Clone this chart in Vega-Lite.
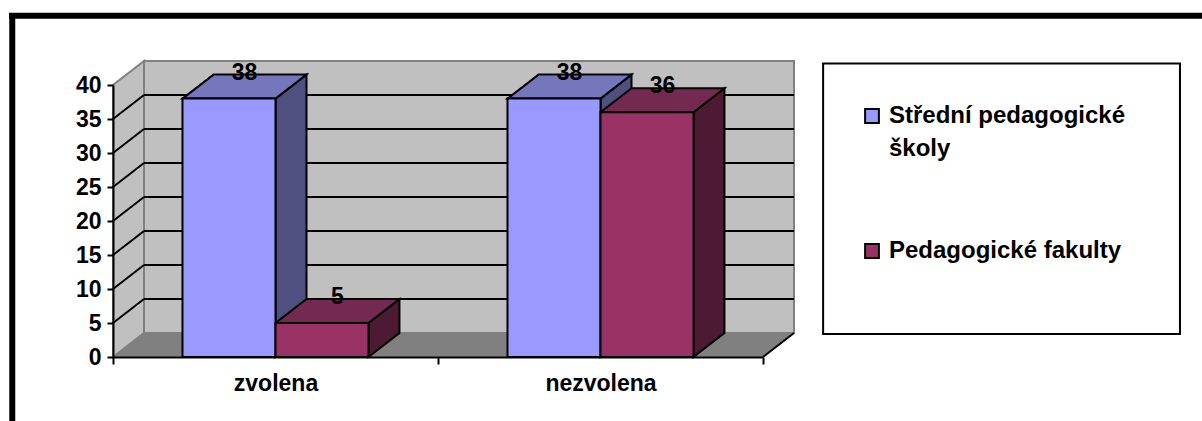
{
  "$schema": "https://vega.github.io/schema/vega-lite/v6.json",
  "width": 650,
  "height": 272,
  "autosize": "none",
  "padding": {"left": 113, "top": 85, "right": 439, "bottom": 64},
  "background": "white",
  "config": {
    "view": {"stroke": null},
    "text": {"font": "Liberation Sans"},
    "axis": {"labelFont": "Liberation Sans", "labelFontWeight": "bold", "labelColor": "black"}
  },
  "datasets": {
    "bars": [
      {"category": "zvolena", "series": "Střední pedagogické školy", "value": 38},
      {"category": "zvolena", "series": "Pedagogické fakulty", "value": 5},
      {"category": "nezvolena", "series": "Střední pedagogické školy", "value": 38},
      {"category": "nezvolena", "series": "Pedagogické fakulty", "value": 36}
    ],
    "ticks": [
      {"tick": 0}, {"tick": 5}, {"tick": 10}, {"tick": 15}, {"tick": 20},
      {"tick": 25}, {"tick": 30}, {"tick": 35}, {"tick": 40}
    ],
    "depths": [{"depth": 0}, {"depth": 1}],
    "single": [{"part": "chrome"}]
  },
  "resolve": {"scale": {"x": "independent", "fill": "independent"}},
  "encoding": {
    "y": {
      "type": "quantitative",
      "title": null,
      "scale": {"domain": [0, 40], "nice": false},
      "axis": {
        "values": [0, 5, 10, 15, 20, 25, 30, 35, 40],
        "title": null,
        "grid": false,
        "labelFontSize": 23,
        "labelPadding": 6,
        "labelOverlap": false,
        "labelFlush": false,
        "labelBound": false,
        "tickSize": 6,
        "tickWidth": 2,
        "tickColor": "black",
        "domainColor": "black",
        "domainWidth": 2,
        "zindex": 1
      }
    }
  },
  "layer": [
    {
      "description": "Outer frame, left edge",
      "data": {"name": "single"},
      "mark": {"type": "rule", "stroke": "black", "strokeWidth": 6},
      "encoding": {
        "x": {"datum": -0.31, "type": "quantitative", "scale": {"domain": [0, 2], "nice": false, "zero": false}, "axis": null},
        "y": {"datum": 50.2, "type": "quantitative"},
        "y2": {"datum": -9.6}
      }
    },
    {
      "description": "Outer frame, top edge",
      "data": {"name": "single"},
      "mark": {"type": "rule", "stroke": "black", "strokeWidth": 6},
      "encoding": {
        "x": {"datum": -0.32, "type": "quantitative", "scale": {"domain": [0, 2], "nice": false, "zero": false}, "axis": null},
        "x2": {"datum": 3.36},
        "y": {"datum": 50.2, "type": "quantitative"}
      }
    },
    {
      "description": "Legend box",
      "data": {"name": "single"},
      "mark": {"type": "rect", "fill": "white", "stroke": "black", "strokeWidth": 2},
      "encoding": {
        "x": {"datum": 2.185, "type": "quantitative", "scale": {"domain": [0, 2], "nice": false, "zero": false}, "axis": null},
        "x2": {"datum": 3.283},
        "y": {"datum": 3.4, "type": "quantitative"},
        "y2": {"datum": 43.15}
      }
    },
    {
      "description": "Back wall",
      "data": {"name": "single"},
      "mark": {"type": "rect", "fill": "#c0c0c0", "stroke": "#808080", "strokeWidth": 2},
      "encoding": {
        "x": {"datum": 0.0954, "type": "quantitative", "scale": {"domain": [0, 2], "nice": false, "zero": false}, "axis": null},
        "x2": {"datum": 2.0954},
        "y": {"datum": 3.53, "type": "quantitative"},
        "y2": {"datum": 43.53}
      }
    },
    {
      "description": "Left wall",
      "data": {"name": "depths"},
      "transform": [
        {"calculate": "datum.depth * 0.0954", "as": "wx"},
        {"calculate": "datum.depth * 3.53", "as": "wy"},
        {"calculate": "40 + datum.depth * 3.53", "as": "wy2"}
      ],
      "mark": {"type": "area", "orient": "vertical", "fill": "#c0c0c0", "stroke": "#808080", "strokeWidth": 2},
      "encoding": {
        "x": {"field": "wx", "type": "quantitative", "scale": {"domain": [0, 2], "nice": false, "zero": false}, "axis": null},
        "y": {"field": "wy", "type": "quantitative", "stack": null},
        "y2": {"field": "wy2"}
      }
    },
    {
      "description": "Floor",
      "data": {"name": "depths"},
      "transform": [
        {"calculate": "datum.depth * 0.0954", "as": "fx"},
        {"calculate": "2 + datum.depth * 0.0954", "as": "fx2"},
        {"calculate": "datum.depth * 3.53", "as": "fy"}
      ],
      "mark": {"type": "area", "orient": "horizontal", "fill": "#808080", "stroke": "#808080", "strokeWidth": 1},
      "encoding": {
        "x": {"field": "fx", "type": "quantitative", "stack": null, "scale": {"domain": [0, 2], "nice": false, "zero": false}, "axis": null},
        "x2": {"field": "fx2"},
        "y": {"field": "fy", "type": "quantitative"}
      }
    },
    {
      "description": "Right edge of the floor",
      "data": {"name": "single"},
      "mark": {"type": "rule", "stroke": "black", "strokeWidth": 2},
      "encoding": {
        "x": {"datum": 2, "type": "quantitative", "scale": {"domain": [0, 2], "nice": false, "zero": false}, "axis": null},
        "x2": {"datum": 2.0954},
        "y": {"datum": 0, "type": "quantitative"},
        "y2": {"datum": 3.53}
      }
    },
    {
      "description": "Gridlines across the back wall",
      "data": {"name": "ticks"},
      "transform": [
        {"filter": "datum.tick > 0 && datum.tick < 40"},
        {"calculate": "datum.tick + 3.53", "as": "level"}
      ],
      "mark": {"type": "rule", "stroke": "black", "strokeWidth": 2},
      "encoding": {
        "x": {"datum": 0.0954, "type": "quantitative", "scale": {"domain": [0, 2], "nice": false, "zero": false}, "axis": null},
        "x2": {"datum": 2.0954},
        "y": {"field": "level", "type": "quantitative"}
      }
    },
    {
      "description": "Gridlines climbing the left wall",
      "data": {"name": "ticks"},
      "transform": [
        {"filter": "datum.tick > 0 && datum.tick < 40"},
        {"calculate": "datum.tick + 3.53", "as": "level"}
      ],
      "mark": {"type": "rule", "stroke": "black", "strokeWidth": 2},
      "encoding": {
        "x": {"datum": 0, "type": "quantitative", "scale": {"domain": [0, 2], "nice": false, "zero": false}, "axis": null},
        "x2": {"datum": 0.0954},
        "y": {"field": "tick", "type": "quantitative"},
        "y2": {"field": "level"}
      }
    },
    {
      "description": "Right-hand side faces of the bars",
      "data": {"name": "bars"},
      "transform": [
        {"calculate": "[0, 1]", "as": "depth"},
        {"flatten": ["depth"]},
        {"calculate": "indexof(['zvolena', 'nezvolena'], datum.category) + 0.5 + (datum.series === 'Pedagogické fakulty' ? 0.286 : 0)", "as": "edge"},
        {"calculate": "datum.edge + datum.depth * 0.0954", "as": "sx"},
        {"calculate": "datum.depth * 3.53", "as": "sy"},
        {"calculate": "datum.value + datum.depth * 3.53", "as": "sy2"}
      ],
      "mark": {"type": "area", "orient": "vertical", "stroke": "black", "strokeWidth": 2},
      "encoding": {
        "detail": [{"field": "category"}, {"field": "series"}],
        "x": {"field": "sx", "type": "quantitative", "scale": {"domain": [0, 2], "nice": false, "zero": false}, "axis": null},
        "y": {"field": "sy", "type": "quantitative", "stack": null},
        "y2": {"field": "sy2"},
        "fill": {"field": "series", "type": "nominal", "legend": null, "scale": {"domain": ["Střední pedagogické školy", "Pedagogické fakulty"], "range": ["#4f4f80", "#4d1a33"]}}
      }
    },
    {
      "description": "Top faces of the bars",
      "data": {"name": "bars"},
      "transform": [
        {"calculate": "[0, 1]", "as": "depth"},
        {"flatten": ["depth"]},
        {"calculate": "indexof(['zvolena', 'nezvolena'], datum.category) + 0.5 + (datum.series === 'Pedagogické fakulty' ? 0 : -0.286)", "as": "left"},
        {"calculate": "datum.left + datum.depth * 0.0954", "as": "tx"},
        {"calculate": "datum.left + 0.286 + datum.depth * 0.0954", "as": "tx2"},
        {"calculate": "datum.value + datum.depth * 3.53", "as": "ty"}
      ],
      "mark": {"type": "area", "orient": "horizontal", "stroke": "black", "strokeWidth": 2},
      "encoding": {
        "detail": [{"field": "category"}, {"field": "series"}],
        "x": {"field": "tx", "type": "quantitative", "stack": null, "scale": {"domain": [0, 2], "nice": false, "zero": false}, "axis": null},
        "x2": {"field": "tx2"},
        "y": {"field": "ty", "type": "quantitative"},
        "fill": {"field": "series", "type": "nominal", "legend": null, "scale": {"domain": ["Střední pedagogické školy", "Pedagogické fakulty"], "range": ["#7676bd", "#732950"]}}
      }
    },
    {
      "description": "Front faces of the bars, with the category axis and the legend",
      "data": {"name": "bars"},
      "mark": {"type": "bar", "stroke": "black", "strokeWidth": 2},
      "encoding": {
        "x": {
          "field": "category",
          "type": "nominal",
          "sort": ["zvolena", "nezvolena"],
          "scale": {"paddingInner": 0, "paddingOuter": 0},
          "title": null,
          "axis": {
            "tickBand": "extent",
            "labelAngle": 0,
            "labelFontSize": 23,
            "labelPadding": 8,
            "tickSize": 7,
            "tickWidth": 2,
            "tickColor": "black",
            "domainColor": "black",
            "domainWidth": 2,
            "zindex": 1
          }
        },
        "xOffset": {
          "field": "series",
          "sort": ["Střední pedagogické školy", "Pedagogické fakulty"],
          "scale": {"paddingInner": 0, "paddingOuter": 0.747}
        },
        "y": {"field": "value", "type": "quantitative", "stack": null},
        "fill": {
          "field": "series",
          "type": "nominal",
          "scale": {"domain": ["Střední pedagogické školy", "Pedagogické fakulty"], "range": ["#9999ff", "#993366"]},
          "legend": {
            "title": null,
            "orient": "none",
            "legendX": 747,
            "legendY": 19,
            "symbolType": "square",
            "symbolSize": 190,
            "symbolStrokeColor": "black",
            "symbolStrokeWidth": 2,
            "labelFont": "Liberation Sans",
            "labelFontWeight": "bold",
            "labelFontSize": 24,
            "labelColor": "black",
            "labelLimit": 320,
            "labelOffset": 5,
            "rowPadding": 78,
            "labelExpr": "datum.label === 'Střední pedagogické školy' ? ['Střední pedagogické', 'školy'] : datum.label",
            "encoding": {"labels": {"lineHeight": {"value": 33}}}
          }
        }
      }
    },
    {
      "description": "Value labels on the rear edge of each top face",
      "data": {"name": "bars"},
      "transform": [
        {"calculate": "indexof(['zvolena', 'nezvolena'], datum.category) + 0.5 + (datum.series === 'Pedagogické fakulty' ? 0.143 : -0.143) + 0.0477", "as": "lx"},
        {"calculate": "datum.value + 3.53", "as": "ly"}
      ],
      "mark": {"type": "text", "fontSize": 23, "fontWeight": "bold", "color": "black", "baseline": "middle", "align": "center", "dy": -2},
      "encoding": {
        "x": {"field": "lx", "type": "quantitative", "scale": {"domain": [0, 2], "nice": false, "zero": false}, "axis": null},
        "y": {"field": "ly", "type": "quantitative"},
        "text": {"field": "value", "type": "quantitative"}
      }
    }
  ]
}
